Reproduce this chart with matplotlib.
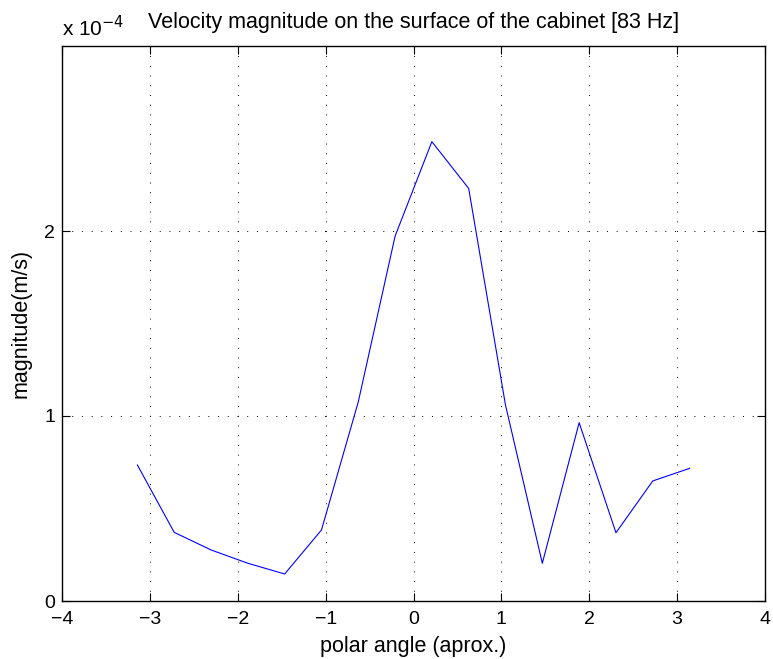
import matplotlib
matplotlib.use("Agg")
import matplotlib.pyplot as plt

plt.rcParams['font.family'] = ['Liberation Sans', 'DejaVu Sans']

angle = [-3.142, -2.723, -2.304, -1.885, -1.466, -1.047, -0.628, -0.209,
         0.209, 0.628, 1.047, 1.466, 1.885, 2.304, 2.723, 3.142]
magnitude = [0.735e-4, 0.371e-4, 0.276e-4, 0.204e-4, 0.146e-4, 0.384e-4, 1.077e-4, 1.973e-4,
             2.483e-4, 2.230e-4, 1.059e-4, 0.204e-4, 0.964e-4, 0.369e-4, 0.649e-4, 0.717e-4]
xticks = [-4, -3, -2, -1, 0, 1, 2, 3, 4]
yticks = [0, 1e-4, 2e-4]
ytick_labels = ['0', '1', '2']

W, H = 773, 659
L, R, T, B = 62, 765, 46, 601
fig = plt.figure(figsize=(W/100, H/100), dpi=100)
ax = fig.add_axes([L/W, 1-B/H, (R-L)/W, (B-T)/H])
ax.plot(angle, magnitude, color='#0000ff', linewidth=0.8)
ax.set_xlim(-4, 4)
ax.set_ylim(0, 3e-4)
ax.set_xticks(xticks)
ax.set_xticklabels(['\u2212' + str(-t) if t < 0 else str(t) for t in xticks])
ax.set_yticks(yticks)
ax.set_yticklabels(ytick_labels)
ax.grid(True, color='black', linestyle=(0, (1, 9)), linewidth=0.7)
ax.tick_params(direction='in', top=True, right=True, length=5.5, width=0.8, labelsize=14)
ax.tick_params(axis='x', pad=7)
ax.tick_params(axis='y', pad=5)
for s in ax.spines.values():
    s.set_linewidth(1.0)
ax.set_xlabel('polar angle (aprox.)', fontsize=15.5, labelpad=6)
ax.set_ylabel('magnitude(m/s)', fontsize=15.5, labelpad=9)
ax.set_title('Velocity magnitude on the surface of the cabinet [83 Hz]', fontsize=15.5, pad=13)
fig.text(L/W, 1-36/H, r'x 10$^{-4}$', fontsize=15, ha='left', va='baseline')
fig.savefig('out.png', dpi=100)
